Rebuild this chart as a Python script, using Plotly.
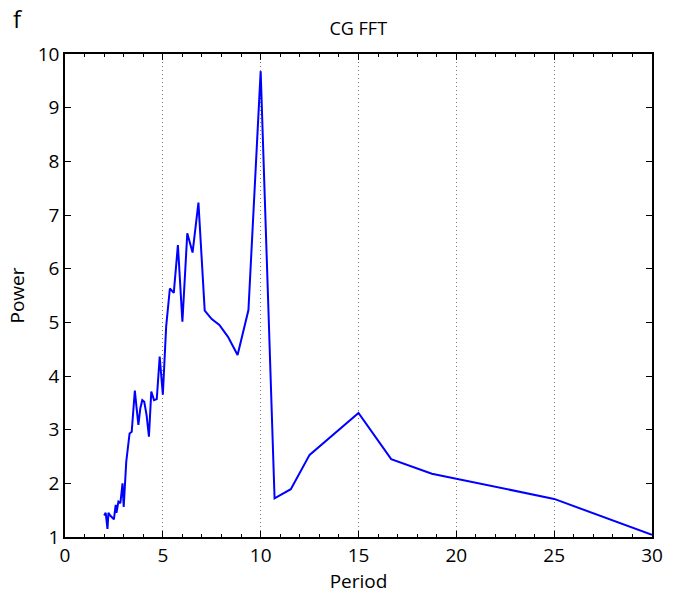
import plotly.graph_objects as go

period = [2.0, 2.08, 2.17, 2.22, 2.31, 2.38, 2.5, 2.59, 2.63, 2.73, 2.83, 2.94, 3.0,
          3.13, 3.3, 3.41, 3.57, 3.66, 3.75, 3.85, 3.95, 4.05, 4.17, 4.29, 4.41, 4.55,
          4.69, 4.84, 5.0, 5.17, 5.36, 5.56, 5.77, 6.0, 6.25, 6.52, 6.82, 7.14, 7.5,
          7.89, 8.33, 8.82, 9.375, 10.0, 10.71, 11.54, 12.5, 15.0, 16.67, 18.75, 25.0, 30.0]
power = [1.40, 1.45, 1.15, 1.45, 1.40, 1.38, 1.33, 1.60, 1.45, 1.66, 1.63, 2.0, 1.56,
         2.4, 2.93, 2.96, 3.73, 3.4, 3.09, 3.4, 3.55, 3.52, 3.27, 2.87, 3.71, 3.55,
         3.57, 4.36, 3.65, 4.92, 5.63, 5.55, 6.44, 5.01, 6.66, 6.30, 7.23, 5.22, 5.06,
         4.95, 4.73, 4.39, 5.23, 9.68, 1.72, 1.89, 2.53, 3.31, 2.45, 2.18, 1.71, 1.04]

x_ticks = [0, 5, 10, 15, 20, 25, 30]
y_ticks = [1, 2, 3, 4, 5, 6, 7, 8, 9, 10]

FONT = "Open Sans"

fig = go.Figure()
fig.add_trace(go.Scatter(x=period, y=power, mode="lines",
                         line=dict(color="#0000FF", width=2), showlegend=False))

fig.update_layout(
    width=676, height=605,
    margin=dict(l=65, r=24, t=54, b=68),
    paper_bgcolor="white", plot_bgcolor="white",
    font=dict(family=FONT, size=18, color="black"),
    title=dict(text="CG FFT", x=0.53, xanchor="center", y=0.953, yanchor="middle",
               font=dict(family=FONT, size=18, color="black")),
    annotations=[dict(text="f", xref="paper", yref="paper", x=-0.092, y=1.074,
                      xanchor="left", yanchor="middle", showarrow=False,
                      font=dict(family=FONT, size=24, color="black"))],
)
fig.update_xaxes(
    range=[0, 30], tickvals=x_ticks, ticktext=[str(v) for v in x_ticks],
    ticks="inside", ticklen=6, tickcolor="black", tickwidth=1,
    showline=True, linecolor="black", linewidth=1.5, mirror="ticks",
    showgrid=True, gridcolor="#777777", griddash="1px,3px", gridwidth=1,
    minor=dict(ticks="inside", dtick=1, tick0=0, ticklen=3, tickcolor="black", showgrid=False),
    zeroline=False,
    title=dict(text="Period", standoff=0, font=dict(family=FONT, size=19)),
    tickfont=dict(family=FONT, size=19),
)
fig.update_yaxes(
    range=[1, 10], tickvals=y_ticks, ticktext=[str(v) for v in y_ticks],
    ticks="inside", ticklen=6, tickcolor="black", tickwidth=1,
    showline=True, linecolor="black", linewidth=1.5, mirror="ticks",
    showgrid=False, zeroline=False,
    title=dict(text="Power", standoff=8, font=dict(family=FONT, size=19)),
    tickfont=dict(family=FONT, size=19),
)

fig.write_html("out.html")
